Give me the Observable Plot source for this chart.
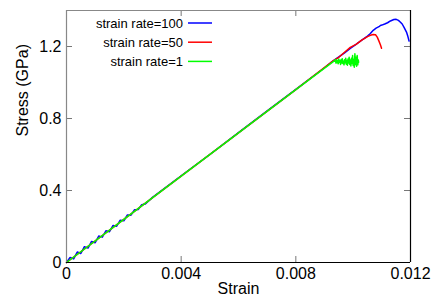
<!DOCTYPE html>
<html><head><meta charset="utf-8">
<script src="https://cdn.jsdelivr.net/npm/d3@7"></script>
<script src="https://cdn.jsdelivr.net/npm/@observablehq/plot@0.6"></script>
<style>
body{margin:0;background:#fff}
#c{position:relative;width:436px;height:305px}
#c svg{position:absolute;left:0;top:0}
</style>
</head><body><div id="c"></div><script>
const seriesNames = ["strain rate=100", "strain rate=50", "strain rate=1"];
const seriesColors = ["#0000ff", "#ff0000", "#00ff00"];
const xTicks = [0, 0.004, 0.008, 0.012];
const yTicks = [0, 0.4, 0.8, 1.2];
const xDomain = [0, 0.012];
const yDomain = [0, 1.4];
const xTitle = "Strain";
const yTitle = "Stress (GPa)";

const blueStrain = [0,0.000125,0.00025,0.000375,0.0005,0.000625,0.00075,0.000875,0.001,0.001125,0.00125,0.001375,0.0015,0.001625,0.00175,0.001875,0.002,0.002125,0.00225,0.002375,0.0025,0.002625,0.00275,0.003,0.004,0.005,0.006,0.007,0.008,0.009,0.0093,0.0095,0.0097,0.0099,0.0101,0.0103,0.0105,0.0106,0.0107,0.0108,0.0109,0.01095,0.0110,0.0111,0.0112,0.0113,0.01142,0.0115,0.01158,0.01165,0.01171,0.01178,0.01186,0.01191,0.01195];
const blueStress = [0,0.028,0.020,0.058,0.050,0.088,0.080,0.117,0.110,0.147,0.141,0.176,0.171,0.206,0.202,0.235,0.232,0.264,0.263,0.293,0.294,0.321,0.325,0.362,0.482,0.600,0.722,0.842,0.962,1.082,1.120,1.142,1.165,1.190,1.212,1.235,1.258,1.272,1.290,1.302,1.310,1.317,1.319,1.325,1.332,1.342,1.350,1.351,1.345,1.335,1.325,1.305,1.280,1.255,1.230];

const redStrain = [0,0.002,0.004,0.006,0.008,0.0093,0.0095,0.0097,0.0099,0.0101,0.0103,0.0105,0.0106,0.0107,0.01078,0.01084,0.0109,0.01095,0.01099];
const redStress = [0,0.240,0.480,0.720,0.960,1.120,1.140,1.168,1.195,1.212,1.235,1.255,1.262,1.267,1.265,1.252,1.230,1.210,1.190];

const greenStrain = [0,0.002,0.004,0.006,0.008,0.00934,0.00936,0.00938,0.0094,0.00942,0.00944,0.00946,0.00948,0.0095,0.00952,0.00954,0.00956,0.00958,0.0096,0.00962,0.00964,0.00966,0.00968,0.0097,0.00972,0.00974,0.00976,0.00978,0.0098,0.00982,0.00984,0.00986,0.00988,0.0099,0.00992,0.00994,0.00996,0.00998,0.0100,0.01002,0.01004,0.01006,0.01008,0.0101,0.01012,0.01014,0.01016,0.01018,0.01019];
const greenStress = [0,0.240,0.480,0.720,0.960,1.120,1.118,1.128,1.108,1.125,1.110,1.122,1.104,1.130,1.112,1.120,1.100,1.128,1.108,1.132,1.106,1.118,1.098,1.126,1.110,1.135,1.102,1.122,1.096,1.130,1.108,1.140,1.100,1.125,1.092,1.135,1.105,1.150,1.095,1.128,1.085,1.160,1.100,1.140,1.090,1.150,1.098,1.125,1.112];

const rows = [];
[[blueStrain, blueStress], [redStrain, redStress], [greenStrain, greenStress]].forEach(([xs, ys], i) => {
  xs.forEach((x, j) => rows.push({series: seriesNames[i], strain: x, stress: ys[j]}));
});

const W = 436, H = 305, mL = 66, mR = 26, mT = 10, mB = 43;
const innerW = W - mL - mR, innerH = H - mT - mB;
const tickLen = 6, tickColor = "#777";

const chart = Plot.plot({
  width: W, height: H,
  marginLeft: mL, marginRight: mR, marginTop: mT, marginBottom: mB,
  style: {fontFamily: "'Liberation Sans', Arial, sans-serif", fontSize: "16px", background: "white", color: "black"},
  x: {domain: xDomain},
  y: {domain: yDomain},
  color: {domain: seriesNames, range: seriesColors},
  marks: [
    Plot.axisX(xTicks, {tickSize: 0, tickPadding: 5, label: null, tickFormat: d => String(d)}),
    Plot.axisY(yTicks, {tickSize: 0, tickPadding: 5, label: null, tickFormat: d => String(d)}),
    Plot.ruleX(xTicks, {x: d => d, insetTop: innerH - tickLen, stroke: tickColor}),
    Plot.ruleX(xTicks, {x: d => d, insetBottom: innerH - tickLen, stroke: tickColor}),
    Plot.ruleY(yTicks, {y: d => d, insetRight: innerW - tickLen, stroke: tickColor}),
    Plot.ruleY(yTicks, {y: d => d, insetLeft: innerW - tickLen, stroke: tickColor}),
    Plot.line(rows, {x: "strain", y: "stress", z: "series", stroke: "series", strokeWidth: 1.5}),
    Plot.ruleX([xDomain[0]], {stroke: "#888", strokeWidth: 1.2}),
    Plot.ruleY([yDomain[1]], {stroke: "#888", strokeWidth: 1.2}),
    Plot.ruleY([yDomain[0]], {stroke: "black", strokeWidth: 1.2}),
    Plot.ruleX([xDomain[1]], {stroke: "black", strokeWidth: 1.2}),
    Plot.text([xTitle], {text: d => d, frameAnchor: "bottom", dy: 31, fontSize: 16}),
    Plot.text([yTitle], {text: d => d, frameAnchor: "left", rotate: -90, dx: -44, fontSize: 16})
  ]
});
const c = document.getElementById("c");
c.appendChild(chart);

// legend overlay
const ns = "http://www.w3.org/2000/svg";
const lg = document.createElementNS(ns, "svg");
lg.setAttribute("width", W); lg.setAttribute("height", H);
lg.style.pointerEvents = "none";
seriesNames.forEach((name, i) => {
  const cy = 23 + i * 19.2;
  const t = document.createElementNS(ns, "text");
  t.setAttribute("x", 183); t.setAttribute("y", cy);
  t.setAttribute("dy", "0.35em");
  t.setAttribute("text-anchor", "end");
  t.setAttribute("font-family", "'Liberation Sans', Arial, sans-serif");
  t.setAttribute("font-size", "13");
  t.textContent = name;
  lg.appendChild(t);
  const l = document.createElementNS(ns, "line");
  l.setAttribute("x1", 188); l.setAttribute("x2", 212);
  l.setAttribute("y1", cy); l.setAttribute("y2", cy);
  l.setAttribute("stroke", seriesColors[i]); l.setAttribute("stroke-width", 1.5);
  lg.appendChild(l);
});
c.appendChild(lg);
</script></body></html>
